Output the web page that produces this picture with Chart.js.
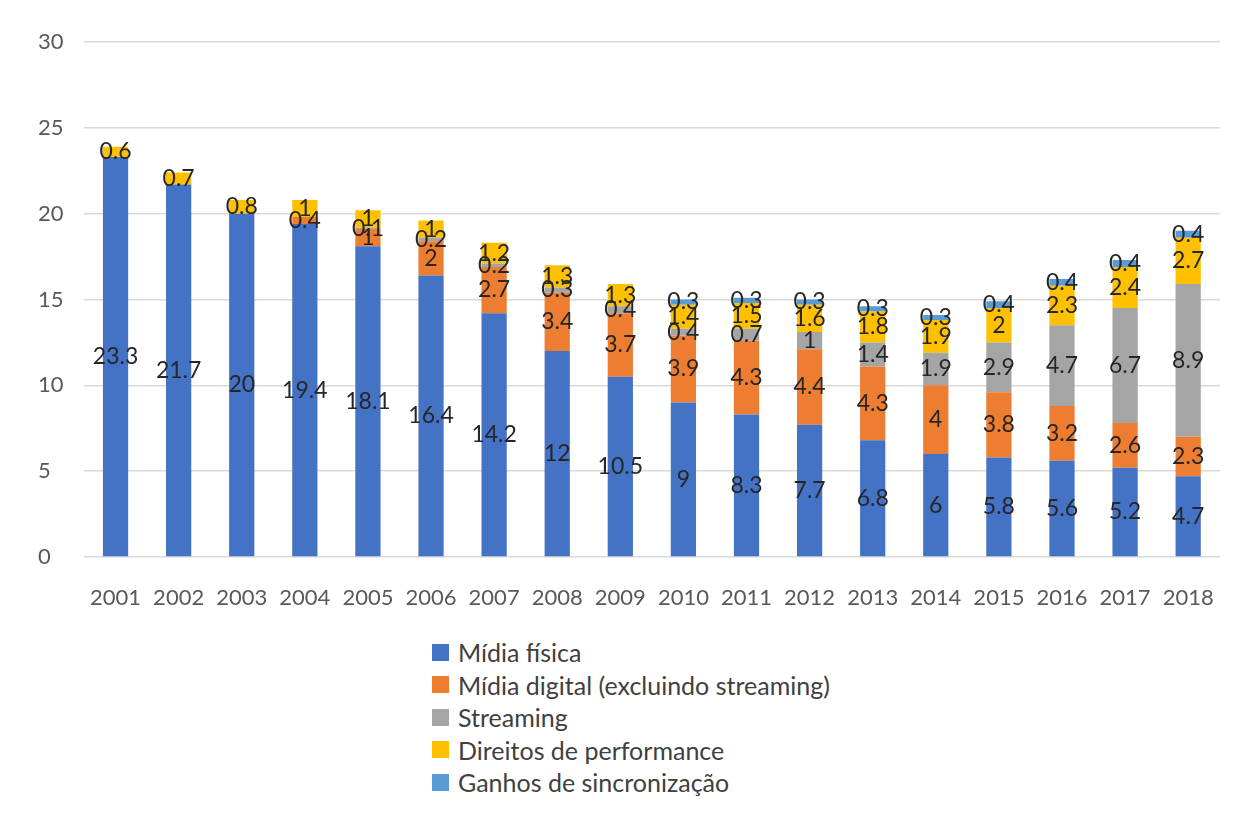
<!DOCTYPE html>
<html>
<head>
<meta charset="utf-8">
<script src="https://cdn.jsdelivr.net/npm/chart.js@4/dist/chart.umd.min.js"></script>
<style>
  html, body { margin: 0; padding: 0; background: #fff; }
  #wrap { position: relative; width: 1234px; height: 816px; }
  #chart { position: absolute; left: 0; top: 0; }
  #legend { position: absolute; left: 432px; top: 636px; font-family: Lato, sans-serif; font-size: 25px; color: #404040; }
  #legend .row { height: 32.5px; display: flex; align-items: center; }
  #legend .box { width: 17px; height: 17px; margin-right: 9px; }
</style>
</head>
<body>
<div id="wrap">
  <canvas id="chart" width="1234" height="625"></canvas>
  <div id="legend"></div>
</div>
<script>
const years = ['2001', '2002', '2003', '2004', '2005', '2006', '2007', '2008', '2009',
  '2010', '2011', '2012', '2013', '2014', '2015', '2016', '2017', '2018'];

const midiaFisica = [23.3, 21.7, 20, 19.4, 18.1, 16.4, 14.2, 12, 10.5, 9, 8.3, 7.7, 6.8, 6, 5.8, 5.6, 5.2, 4.7];
const midiaDigital = [null, null, null, 0.4, 1, 2, 2.7, 3.4, 3.7, 3.9, 4.3, 4.4, 4.3, 4, 3.8, 3.2, 2.6, 2.3];
const streaming = [null, null, null, null, 0.1, 0.2, 0.2, 0.3, 0.4, 0.4, 0.7, 1, 1.4, 1.9, 2.9, 4.7, 6.7, 8.9];
const direitos = [0.6, 0.7, 0.8, 1, 1, 1, 1.2, 1.3, 1.3, 1.4, 1.5, 1.6, 1.8, 1.9, 2, 2.3, 2.4, 2.7];
const sincronizacao = [null, null, null, null, null, null, null, null, null, 0.3, 0.3, 0.3, 0.3, 0.3, 0.4, 0.4, 0.4, 0.4];

const yTicks = [0, 5, 10, 15, 20, 25, 30];

const series = [
  { label: 'Mídia física', data: midiaFisica, color: '#4472C4' },
  { label: 'Mídia digital (excluindo streaming)', data: midiaDigital, color: '#ED7D31' },
  { label: 'Streaming', data: streaming, color: '#A5A5A5' },
  { label: 'Direitos de performance', data: direitos, color: '#FFC000' },
  { label: 'Ganhos de sincronização', data: sincronizacao, color: '#5B9BD5' }
];

const font = 'Lato, sans-serif';

// value labels centred on each stacked segment
const segmentLabels = {
  id: 'segmentLabels',
  afterDatasetsDraw(chart) {
    const ctx = chart.ctx;
    ctx.save();
    ctx.font = '23px ' + font;
    ctx.fillStyle = '#262626';
    ctx.textAlign = 'center';
    ctx.textBaseline = 'middle';
    chart.data.datasets.forEach((ds, i) => {
      const meta = chart.getDatasetMeta(i);
      meta.data.forEach((bar, j) => {
        const v = ds.data[j];
        if (v === null || v === undefined) return;
        ctx.fillText(String(v), bar.x, (bar.y + bar.base) / 2);
      });
    });
    ctx.restore();
  }
};

const chart = new Chart(document.getElementById('chart'), {
  type: 'bar',
  data: {
    labels: years,
    datasets: series.map(s => ({
      label: s.label,
      data: s.data,
      backgroundColor: s.color,
      borderWidth: 0,
      barPercentage: 0.4,
      categoryPercentage: 1
    }))
  },
  options: {
    responsive: false,
    animation: false,
    layout: { padding: { left: 38, right: 11, top: 42, bottom: 0 } },
    plugins: {
      legend: { display: false },
      tooltip: { enabled: false }
    },
    scales: {
      x: {
        stacked: true,
        grid: { display: false },
        border: { display: false },
        ticks: { color: '#595959', font: { family: font, size: 22 }, padding: 20, maxRotation: 0 },
        afterFit(scale) { scale.height = 68; }
      },
      y: {
        stacked: true,
        min: 0,
        max: 30,
        afterBuildTicks(scale) { scale.ticks = yTicks.map(v => ({ value: v })); },
        grid: { color: '#d9d9d9', lineWidth: 1.5, drawTicks: false },
        border: { display: false },
        ticks: { color: '#595959', font: { family: font, size: 22 }, crossAlign: 'far', padding: 0 },
        afterFit(scale) { scale.width = 46; }
      }
    }
  },
  plugins: [segmentLabels]
});

// vertical legend under the plot
const legend = document.getElementById('legend');
series.forEach(s => {
  const row = document.createElement('div');
  row.className = 'row';
  const box = document.createElement('div');
  box.className = 'box';
  box.style.background = s.color;
  const text = document.createElement('span');
  text.textContent = s.label;
  row.appendChild(box);
  row.appendChild(text);
  legend.appendChild(row);
});
</script>
</body>
</html>
